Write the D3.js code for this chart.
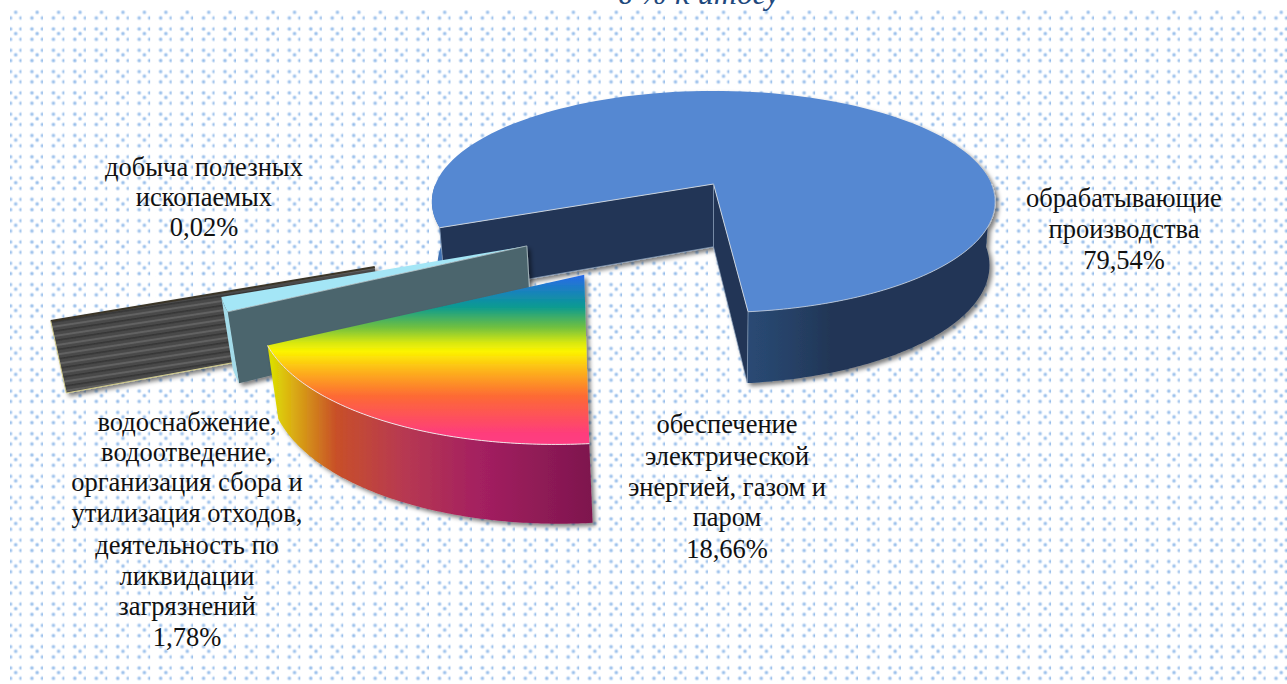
<!DOCTYPE html>
<html><head><meta charset="utf-8">
<script src="https://cdn.jsdelivr.net/npm/d3@7/dist/d3.min.js"></script>
<style>html,body{margin:0;padding:0;background:#fff;overflow:hidden}
text{font-family:"Liberation Serif",serif;fill:#111;font-size:26.5px;text-anchor:middle}</style>
</head><body><svg id="c" width="1287" height="684"></svg>
<script>
const categories=["обрабатывающие производства","обеспечение электрической энергией, газом и паром","водоснабжение, водоотведение, организация сбора и утилизация отходов, деятельность по ликвидации загрязнений","добыча полезных ископаемых"];
const shares=[79.54,18.66,1.78,0.02];
const labelLines=[["обрабатывающие","производства","79,54%"],["обеспечение","электрической","энергией, газом и","паром","18,66%"],["водоснабжение,","водоотведение,","организация сбора и","утилизация отходов,","деятельность по","ликвидации","загрязнений","1,78%"],["добыча полезных","ископаемых","0,02%"]];
const labelX=[1124,727,187,204];
const labelY=[[207,238,269],[433,465,496,526,558],[431,461,491,522,554,585,615,646],[176,206,236]];
const explodeU=[0,-.41,-.615,-1.085];
const explodeV=[0,.74,.525,.685];
const sliceTurn=[0,1,0,0];
const sliceRadius=[1,1,.975,.97];
const title="в % к итогу";

const svg=d3.select("#c"),defs=svg.append("defs");
const cx=713.5,cy=184,A=278,B=108,D=64,k=.16,m=.02;
const proj=(u,v,z)=>{const w=1-k*v+m*z;return [cx+A*u/w,cy+(B*v+D*z)/w];};
const line=d3.line();
const deg=Math.PI/180;
// the main slice ends at 174deg clockwise from the far side; the others follow it
const turn=174*deg-2*Math.PI*shares[0]/d3.sum(shares);
const arcs=d3.pie().sort(null).value(d=>d).startAngle(turn).endAngle(turn+2*Math.PI)(shares);
const sl=arcs.map((a,i)=>({i,s:a.startAngle+sliceTurn[i]*deg,e:a.endAngle+sliceTurn[i]*deg}));
const P=(sl,r,t,z)=>proj(explodeU[sl.i]+sliceRadius[sl.i]*r*Math.sin(t),explodeV[sl.i]-sliceRadius[sl.i]*r*Math.cos(t),z);
const arcPts=(sl,from,to,z)=>d3.range(0,121).map(j=>P(sl,1,from+(to-from)*j/120,z));
const topPath=sl=>line([P(sl,0,0,0),...arcPts(sl,sl.s,sl.e,0)])+"Z";
const radial=(sl,t)=>line([P(sl,0,0,0),P(sl,1,t,0),P(sl,1,t,1),P(sl,0,0,1)])+"Z";
const wall=(sl,a,b)=>line([...arcPts(sl,a,b,0),...arcPts(sl,b,a,1)])+"Z";

// background
const pat=defs.append("pattern").attr("id","dots").attr("patternUnits","userSpaceOnUse").attr("width",21.45).attr("height",21.3);
const halo=defs.append("radialGradient").attr("id","dot");
[[0,"#8db6e6",1],[.4,"#a5c7ee",.9],[1,"#cfe0f6",0]].forEach(s=>halo.append("stop").attr("offset",s[0]).attr("stop-color",s[1]).attr("stop-opacity",s[2]));
[[15.7,12.3],[10.5,18],[21,18],[5.2,23.5],[10.5,7.7],[21,7.7]].forEach(p=>{pat.append("circle").attr("cx",p[0]).attr("cy",p[1]).attr("r",2.8).attr("fill","url(#dot)");});
svg.append("rect").attr("x",10).attr("y",10).attr("width",1277).attr("height",674).attr("fill","url(#dots)");
svg.append("text").attr("x",699).attr("y",4).attr("font-style","italic").style("font-size","32px").style("fill","#1f497d").text(title);

// gradients
const grad=(id,stops,x1,y1,x2,y2)=>{const g=defs.append("linearGradient").attr("id",id).attr("gradientUnits","userSpaceOnUse").attr("x1",x1).attr("y1",y1).attr("x2",x2).attr("y2",y2);stops.forEach(s=>g.append("stop").attr("offset",s[0]).attr("stop-color",s[1]));};
grad("rainbowTop",[[0,"#2a68ec"],[.19,"#0a9a92"],[.31,"#70c040"],[.4,"#d8e810"],[.45,"#fcf400"],[.57,"#fdb01c"],[.71,"#fd6a34"],[.93,"#fe3c7c"],[1,"#fe3c84"]],0,274,0,446);
grad("rainbowWall",[[0,"#dcdc00"],[.05,"#dcb810"],[.2,"#c85028"],[.4,"#b83a50"],[.65,"#a42060"],[1,"#7e164e"]],272,0,591,0);
grad("blueWall",[[0,"#2a4a75"],[.5,"#264268"],[1,"#223656"]],745,0,830,0);
const stripe=defs.append("pattern").attr("id","stripes").attr("patternUnits","userSpaceOnUse").attr("width",14).attr("height",9.3).attr("patternTransform","rotate(-8.7)");
stripe.append("rect").attr("width",14).attr("height",9.3).attr("fill","#494949");
stripe.append("rect").attr("y",0).attr("width",14).attr("height",1.6).attr("fill","#363636");
stripe.append("rect").attr("y",4.6).attr("width",14).attr("height",2).attr("fill","#626262");
const f=defs.append("filter").attr("id","sh").attr("x","-10%").attr("y","-10%").attr("width","125%").attr("height","125%");
f.append("feDropShadow").attr("dx",3).attr("dy",3).attr("stdDeviation",2.2).attr("flood-color","#000").attr("flood-opacity",.5);

const draw=(g,d,fill,stroke,sw)=>g.append("path").attr("d",d).attr("fill",fill).attr("stroke",stroke||"none").attr("stroke-width",sw||0).attr("stroke-linejoin","round");
const edge="#c9d2de";

// slice 4: thin black wall
{const s=sl[3],g=svg.append("g").attr("filter","url(#sh)");
 draw(g,radial(s,s.s),"url(#stripes)");
 draw(g,line([P(s,0,0,0),P(s,1,s.s,0)]),"none","#3a3428",2);
 draw(g,line([P(s,1,s.s,0),P(s,1,s.s,1)]),"none","#cfc98a",1);
 draw(g,line([P(s,0,0,1),P(s,1,s.s,1)]),"none","#cfc98a",1);
}
// slice 1: main
{const s=sl[0],g=svg.append("g").attr("filter","url(#sh)");
 draw(g,radial(s,s.s),"#223656");
 draw(g,radial(s,s.e),"#223656");
 draw(g,wall(s,s.s,-90*deg),"#3f72b4");
 draw(g,wall(s,90*deg,s.e),"url(#blueWall)");
 draw(g,topPath(s),"#5588d2");
 draw(g,line([P(s,1,s.s,0),P(s,0,0,0),P(s,1,s.e,0)]),"none",edge,1);
 draw(g,line(arcPts(s,90*deg,s.e,0)),"none",edge,.8);
 draw(g,line([P(s,1,s.s,0),P(s,1,s.s,1),P(s,0,0,1),P(s,0,0,0)]),"none","#8ea3bf",.7);
 draw(g,line([P(s,1,s.e,0),P(s,1,s.e,1),P(s,0,0,1)]),"none","#8ea3bf",.7);
}
// slice 3: teal wall with light blue top
{const s=sl[2],g=svg.append("g").attr("filter","url(#sh)");
 draw(g,topPath(s),"#a4e6f6");
 draw(g,radial(s,s.s),"#4c656d");
 draw(g,line([P(s,1,s.s,0),P(s,0,0,0),P(s,0,0,1)]),"none","#b9c9cd",.8);
 draw(g,wall(s,s.s,s.e),"#a4dcea");
}
// slice 2: rainbow
{const s=sl[1],g=svg.append("g").attr("filter","url(#sh)");
 draw(g,wall(s,s.s,s.e),"url(#rainbowWall)");
 draw(g,topPath(s),"url(#rainbowTop)");
 draw(g,line(arcPts(s,s.s,s.e,0)),"none","#f3e3e6",1);
}
// labels
labelLines.forEach((ls,i)=>ls.forEach((t,j)=>svg.append("text").attr("x",labelX[i]).attr("y",labelY[i][j]).text(t)));
</script></body></html>
